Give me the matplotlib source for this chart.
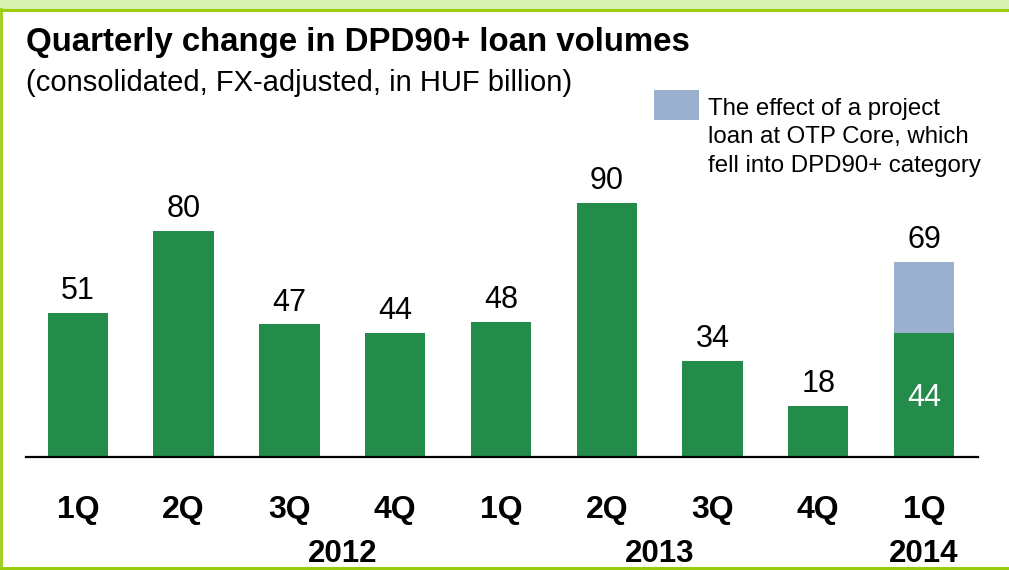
import numpy as np
import matplotlib.pyplot as plt
from matplotlib.patches import Rectangle
from matplotlib.lines import Line2D

plt.rcParams['font.family'] = ['Liberation Sans', 'DejaVu Sans']

quarters = ['1Q', '2Q', '3Q', '4Q', '1Q', '2Q', '3Q', '4Q', '1Q']
years = ['2012', '2013', '2014']
base = [51, 80, 47, 44, 48, 90, 34, 18, 44]
project_loan = [0, 0, 0, 0, 0, 0, 0, 0, 25]
totals = [51, 80, 47, 44, 48, 90, 34, 18, 69]

green = '#238C4B'
blue = '#9BAFCE'
lime = '#9ACD0E'

fig = plt.figure(figsize=(10.09, 5.70), dpi=100)
W, H = 1009, 570

# frame: light band on top, lime lines left / top / bottom
fig.patches.append(Rectangle((0, 1 - 9 / H), 1, 9 / H, transform=fig.transFigure,
                             facecolor='#DAF2B4', edgecolor='none'))
fig.lines.append(Line2D([0, 1], [1 - 9.5 / H] * 2, transform=fig.transFigure, color=lime, lw=2.2))
fig.lines.append(Line2D([0.5 / W] * 2, [0, 1 - 9 / H], transform=fig.transFigure, color=lime, lw=2))
fig.lines.append(Line2D([0, 1], [2 / H] * 2, transform=fig.transFigure, color=lime, lw=2.2))

ax = fig.add_axes([26 / W, 113 / H, 952 / W, 282 / H])
x = np.arange(len(base))
ax.bar(x, base, width=0.57, color=green)
ax.bar(x, project_loan, bottom=base, width=0.57, color=blue)
ax.set_xlim(-0.49, 8.51)
ax.set_ylim(0, 100)

for i, t in enumerate(totals):
    ax.annotate(str(t), (i, t), xytext=(0, 5), textcoords='offset points',
                ha='center', va='bottom', fontsize=22)
ax.text(8, base[8] / 2 - 1, str(base[8]), ha='center', va='center', fontsize=22, color='white')

for s in ['top', 'left', 'right']:
    ax.spines[s].set_visible(False)
ax.spines['bottom'].set_linewidth(1.6)
ax.set_yticks([])
ax.set_xticks(x)
ax.set_xticklabels(quarters, fontsize=23, fontweight='bold')
ax.tick_params(axis='x', length=0, pad=27.5)

year_pos = [2.5, 5.5, 8]
for xp, yr in zip(year_pos, years):
    ax.text(xp, -34.5, yr, ha='center', va='center', fontsize=22.5, fontweight='bold')

fig.text(26 / W, 1 - 43 / H, 'Quarterly change in DPD90+ loan volumes', fontsize=23.8,
         fontweight='bold', va='center')
fig.text(26 / W, 1 - 83 / H, '(consolidated, FX-adjusted, in HUF billion)', fontsize=21,
         va='center')

# legend box for the project loan effect
fig.patches.append(Rectangle((654 / W, 1 - 120 / H), 45 / W, 30 / H, transform=fig.transFigure,
                             facecolor=blue, edgecolor='none'))
fig.text(708 / W, 1 - 98 / H,
         'The effect of a project\nloan at OTP Core, which\nfell into DPD90+ category',
         fontsize=17.3, va='top', linespacing=1.38)

fig.savefig('out.png', dpi=100)
